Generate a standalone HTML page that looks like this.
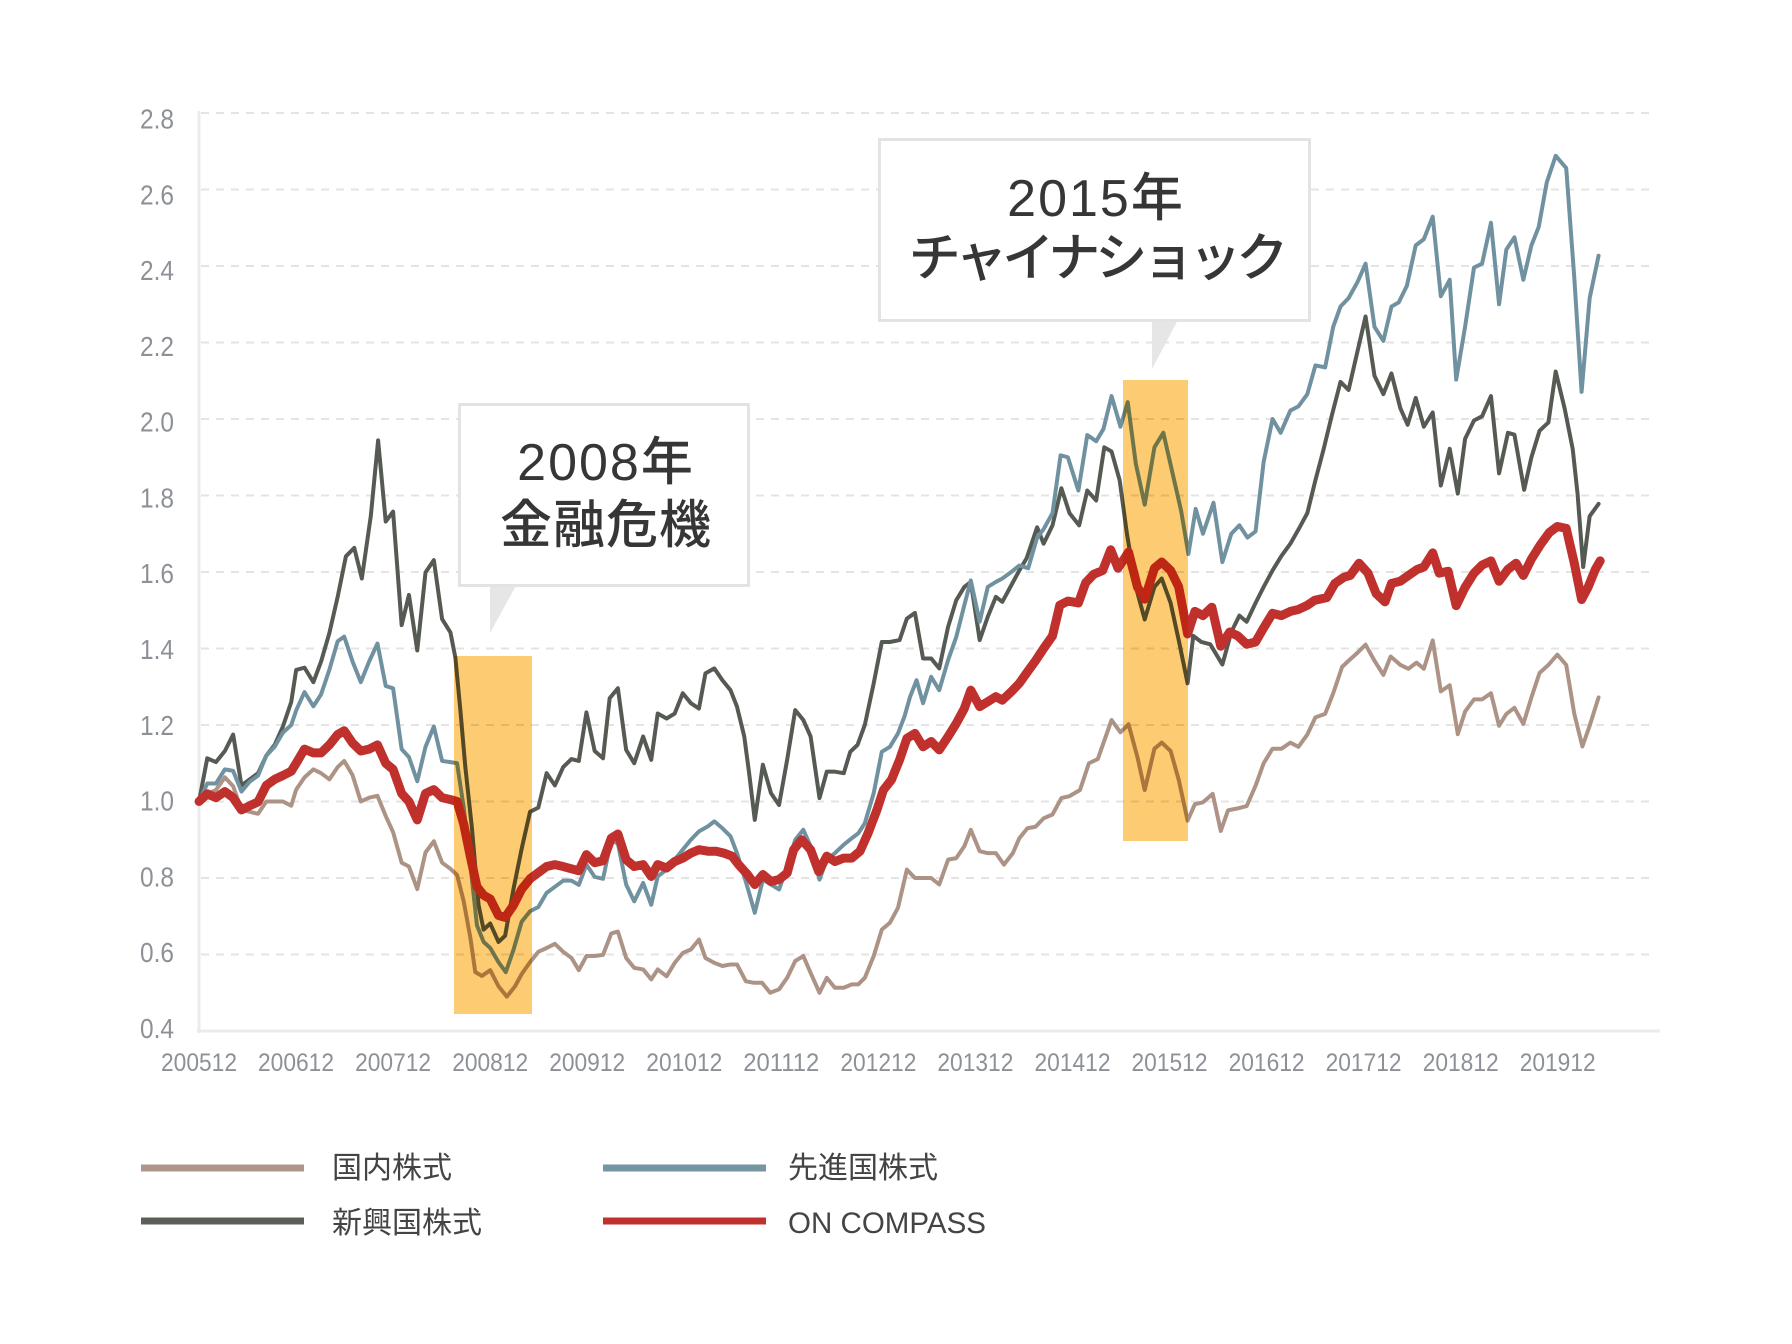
<!DOCTYPE html>
<html><head><meta charset="utf-8"><style>
html,body{margin:0;padding:0;background:#fff;width:1792px;height:1344px;overflow:hidden}
svg{display:block}
</style></head><body>
<svg width="1792" height="1344" viewBox="0 0 1792 1344" xmlns="http://www.w3.org/2000/svg">
<rect x="0" y="0" width="1792" height="1344" fill="#fff"/>
<!-- gridlines -->
<g stroke="#e4e4e4" stroke-width="2" stroke-dasharray="8 7">
<line x1="201" y1="113" x2="1653" y2="113"/>
<line x1="201" y1="189.5" x2="1653" y2="189.5"/>
<line x1="201" y1="266" x2="1653" y2="266"/>
<line x1="201" y1="342.5" x2="1653" y2="342.5"/>
<line x1="201" y1="419" x2="1653" y2="419"/>
<line x1="201" y1="495.5" x2="1653" y2="495.5"/>
<line x1="201" y1="572" x2="1653" y2="572"/>
<line x1="201" y1="648.5" x2="1653" y2="648.5"/>
<line x1="201" y1="725" x2="1653" y2="725"/>
<line x1="201" y1="801.5" x2="1653" y2="801.5"/>
<line x1="201" y1="878" x2="1653" y2="878"/>
<line x1="201" y1="954.5" x2="1653" y2="954.5"/>
</g>
<!-- axes -->
<line x1="199" y1="111" x2="199" y2="1033" stroke="#ebebeb" stroke-width="3"/>
<line x1="197" y1="1031" x2="1660" y2="1031" stroke="#ebebeb" stroke-width="3"/>
<!-- y labels -->
<g font-family="Liberation Sans, sans-serif" font-size="28" fill="#8d9197" text-anchor="end">
<text x="174" y="128.5" textLength="34" lengthAdjust="spacingAndGlyphs">2.8</text>
<text x="174" y="204.3" textLength="34" lengthAdjust="spacingAndGlyphs">2.6</text>
<text x="174" y="280.1" textLength="34" lengthAdjust="spacingAndGlyphs">2.4</text>
<text x="174" y="355.9" textLength="34" lengthAdjust="spacingAndGlyphs">2.2</text>
<text x="174" y="431.7" textLength="34" lengthAdjust="spacingAndGlyphs">2.0</text>
<text x="174" y="507.5" textLength="34" lengthAdjust="spacingAndGlyphs">1.8</text>
<text x="174" y="583.2" textLength="34" lengthAdjust="spacingAndGlyphs">1.6</text>
<text x="174" y="659" textLength="34" lengthAdjust="spacingAndGlyphs">1.4</text>
<text x="174" y="734.8" textLength="34" lengthAdjust="spacingAndGlyphs">1.2</text>
<text x="174" y="810.6" textLength="34" lengthAdjust="spacingAndGlyphs">1.0</text>
<text x="174" y="886.4" textLength="34" lengthAdjust="spacingAndGlyphs">0.8</text>
<text x="174" y="962.2" textLength="34" lengthAdjust="spacingAndGlyphs">0.6</text>
<text x="174" y="1038" textLength="34" lengthAdjust="spacingAndGlyphs">0.4</text>
</g>
<!-- x labels -->
<g font-family="Liberation Sans, sans-serif" font-size="25" fill="#8d9197" text-anchor="middle">
<text x="199" y="1071" textLength="76" lengthAdjust="spacingAndGlyphs">200512</text>
<text x="296" y="1071" textLength="76" lengthAdjust="spacingAndGlyphs">200612</text>
<text x="393.1" y="1071" textLength="76" lengthAdjust="spacingAndGlyphs">200712</text>
<text x="490.2" y="1071" textLength="76" lengthAdjust="spacingAndGlyphs">200812</text>
<text x="587.2" y="1071" textLength="76" lengthAdjust="spacingAndGlyphs">200912</text>
<text x="684.3" y="1071" textLength="76" lengthAdjust="spacingAndGlyphs">201012</text>
<text x="781.3" y="1071" textLength="76" lengthAdjust="spacingAndGlyphs">201112</text>
<text x="878.4" y="1071" textLength="76" lengthAdjust="spacingAndGlyphs">201212</text>
<text x="975.4" y="1071" textLength="76" lengthAdjust="spacingAndGlyphs">201312</text>
<text x="1072.5" y="1071" textLength="76" lengthAdjust="spacingAndGlyphs">201412</text>
<text x="1169.5" y="1071" textLength="76" lengthAdjust="spacingAndGlyphs">201512</text>
<text x="1266.6" y="1071" textLength="76" lengthAdjust="spacingAndGlyphs">201612</text>
<text x="1363.6" y="1071" textLength="76" lengthAdjust="spacingAndGlyphs">201712</text>
<text x="1460.7" y="1071" textLength="76" lengthAdjust="spacingAndGlyphs">201812</text>
<text x="1557.7" y="1071" textLength="76" lengthAdjust="spacingAndGlyphs">201912</text>
</g>
<!-- series -->
<g transform="matrix(8.09 0 0 -382.5 199 1184)" fill="none" stroke-linejoin="round" stroke-linecap="round">
<polyline vector-effect="non-scaling-stroke" stroke="#ad9386" stroke-width="4" points="0,1 1.02,1.02 2.09,1.03 3.2,1.063 4.22,1.04 5.25,0.978 6.27,0.973 7.3,0.968 8.32,1 9.35,1 10.37,1 11.4,0.989 12.01,1.031 13.04,1.063 14.14,1.084 15.09,1.074 16.11,1.058 17.14,1.09 17.95,1.106 18.98,1.069 20,1 21.03,1.01 22.06,1.015 23.08,0.962 23.99,0.92 25.05,0.84 25.95,0.83 26.98,0.771 28,0.867 29.03,0.896 30.05,0.84 31.08,0.824 31.9,0.808 32.72,0.739 33.54,0.644 34.15,0.554 34.97,0.544 36,0.559 37.02,0.517 38.05,0.49 39.07,0.517 39.89,0.549 40.92,0.58 41.94,0.607 42.97,0.617 43.99,0.628 45.02,0.607 46.04,0.591 46.95,0.559 47.89,0.596 48.91,0.596 49.94,0.599 50.96,0.655 51.78,0.66 52.8,0.591 53.8,0.565 54.9,0.561 55.9,0.535 56.7,0.561 57.8,0.543 58.8,0.578 59.8,0.604 60.8,0.613 61.8,0.639 62.6,0.591 63.7,0.578 64.7,0.57 65.7,0.574 66.5,0.574 67.6,0.53 68.6,0.526 69.6,0.526 70.6,0.5 71.7,0.509 72.7,0.539 73.7,0.583 74.7,0.596 75.6,0.552 76.7,0.5 77.6,0.539 78.6,0.513 79.7,0.513 80.7,0.522 81.5,0.522 82.3,0.539 83.4,0.596 84.4,0.665 85.4,0.683 86.4,0.722 87.5,0.822 88.5,0.8 89.5,0.8 90.5,0.8 91.5,0.783 92.6,0.848 93.6,0.852 94.6,0.883 95.4,0.926 96.5,0.87 97.5,0.865 98.5,0.865 99.5,0.835 100.6,0.865 101.4,0.904 102.4,0.93 103.4,0.934 104.4,0.956 105.5,0.966 106.6,1.009 107.6,1.014 108.9,1.03 110,1.1 111.1,1.111 111.9,1.159 112.8,1.213 113.9,1.181 114.9,1.202 116,1.116 116.9,1.03 118.1,1.138 119,1.154 120.1,1.132 121.1,1.057 122.2,0.95 123.1,0.993 124.1,0.998 125.3,1.02 126.3,0.923 127.2,0.977 128.4,0.982 129.5,0.988 130.6,1.041 131.6,1.1 132.7,1.138 133.8,1.138 134.9,1.154 135.9,1.143 137,1.175 138,1.22 139.2,1.229 140.2,1.283 141.3,1.352 142.1,1.368 143.2,1.389 144.2,1.41 145.3,1.368 146.4,1.331 147.3,1.379 148.5,1.357 149.5,1.347 150.5,1.363 151.4,1.347 152.5,1.421 153.5,1.288 154.6,1.304 155.6,1.176 156.5,1.235 157.6,1.267 158.6,1.267 159.7,1.283 160.7,1.198 161.6,1.229 162.6,1.245 163.7,1.203 164.7,1.272 165.7,1.336 166.8,1.357 167.9,1.384 169,1.357 170,1.229 171,1.144 171.9,1.198 173,1.272"/>
<polyline vector-effect="non-scaling-stroke" stroke="#555a53" stroke-width="4" points="0,1 1.02,1.113 2.09,1.103 3.2,1.132 4.22,1.175 5.25,1.042 6.27,1.058 7.3,1.074 8.32,1.12 9.35,1.148 10.37,1.196 11.4,1.26 12.01,1.344 13.04,1.35 14.14,1.312 15.09,1.366 16.11,1.44 17.14,1.535 18.16,1.641 19.19,1.663 20.13,1.583 21.24,1.747 22.14,1.944 23.08,1.732 23.99,1.758 25.05,1.461 25.95,1.54 26.98,1.395 28,1.599 29.03,1.631 30.05,1.477 31.08,1.442 31.69,1.376 32.31,1.238 32.92,1.09 33.74,0.93 34.56,0.729 35.18,0.665 36,0.681 37.02,0.633 37.84,0.649 38.87,0.771 39.89,0.877 40.92,0.973 41.94,0.984 42.97,1.074 43.99,1.042 45.02,1.09 46.04,1.111 46.95,1.106 47.89,1.233 48.91,1.132 49.94,1.113 50.76,1.27 51.78,1.296 52.8,1.135 53.8,1.1 54.9,1.17 55.9,1.109 56.7,1.23 57.8,1.217 58.8,1.23 59.8,1.283 60.8,1.257 61.8,1.243 62.6,1.335 63.7,1.348 64.7,1.317 65.7,1.291 66.5,1.248 67.4,1.17 68,1.074 68.7,0.952 69.7,1.096 70.7,1.022 71.7,0.991 72.7,1.109 73.7,1.239 74.7,1.213 75.6,1.17 76.7,1.009 77.6,1.078 78.6,1.078 79.7,1.074 80.5,1.13 81.4,1.148 82.3,1.2 83.4,1.309 84.4,1.417 85.4,1.417 86.6,1.422 87.5,1.478 88.5,1.493 89.5,1.374 90.5,1.374 91.5,1.348 92.6,1.457 93.6,1.526 94.6,1.561 95.4,1.574 96.5,1.422 97.5,1.483 98.5,1.535 99.3,1.522 100.4,1.565 101.4,1.604 102.3,1.636 103.6,1.717 104.4,1.674 105.5,1.722 106.6,1.819 107.6,1.754 108.8,1.722 109.8,1.813 110.9,1.787 111.9,1.926 112.8,1.915 113.8,1.84 114.7,1.7 115.8,1.561 116.9,1.476 118.1,1.561 119,1.583 120.1,1.519 121.1,1.422 122.2,1.309 122.9,1.433 123.9,1.417 125,1.411 126.5,1.358 127.6,1.443 128.6,1.486 129.5,1.47 130.6,1.519 131.6,1.561 132.7,1.604 133.8,1.642 134.9,1.674 135.9,1.711 137,1.754 138,1.84 139,1.92 140,2.007 141.1,2.097 142.1,2.076 143.2,2.177 144.2,2.268 145.3,2.113 146.4,2.065 147.4,2.119 148.5,2.028 149.4,1.985 150.4,2.055 151.4,1.98 152.5,2.017 153.5,1.826 154.6,1.922 155.6,1.805 156.5,1.948 157.6,1.996 158.6,2.007 159.7,2.06 160.7,1.858 161.8,1.964 162.6,1.959 163.8,1.815 164.7,1.9 165.7,1.969 166.8,1.991 167.7,2.124 168.8,2.028 169.8,1.922 170.4,1.805 171.1,1.613 171.9,1.746 173,1.778"/>
<polyline vector-effect="non-scaling-stroke" stroke="#7092a0" stroke-width="4" points="0,1 1.02,1.047 2.09,1.047 3.2,1.084 4.22,1.08 5.25,1.026 6.27,1.052 7.3,1.068 8.32,1.12 9.35,1.143 10.37,1.18 11.4,1.2 12.01,1.238 13.04,1.286 14.14,1.249 15.09,1.28 16.11,1.344 17.14,1.419 17.95,1.431 18.98,1.366 20,1.312 21.03,1.366 22.06,1.413 23.08,1.302 23.99,1.296 25.05,1.137 25.95,1.116 26.98,1.053 28,1.143 29.03,1.196 30.05,1.106 31.08,1.103 31.9,1.1 32.72,0.984 33.54,0.835 34.36,0.676 35.18,0.633 36,0.617 37.02,0.58 37.92,0.554 38.87,0.612 39.89,0.686 40.92,0.713 41.94,0.724 42.97,0.761 43.99,0.777 45.02,0.793 46.04,0.793 46.95,0.782 47.89,0.835 48.91,0.803 49.94,0.798 50.96,0.899 51.78,0.89 52.8,0.783 53.8,0.739 54.9,0.787 55.9,0.73 56.7,0.804 57.8,0.822 58.8,0.848 59.8,0.874 60.8,0.9 61.8,0.922 62.9,0.935 63.7,0.948 64.7,0.93 65.7,0.909 66.5,0.865 67.4,0.804 68,0.761 68.7,0.709 69.7,0.796 70.7,0.783 71.7,0.77 72.7,0.83 73.7,0.9 74.7,0.926 75.6,0.883 76.7,0.796 77.6,0.848 78.6,0.865 79.7,0.887 80.7,0.904 81.5,0.917 82.3,0.943 83.4,1.022 84.4,1.13 85.4,1.143 86.4,1.178 87.2,1.222 87.9,1.274 88.7,1.317 89.5,1.257 90.5,1.326 91.5,1.291 92.6,1.37 93.6,1.43 94.6,1.513 95.4,1.578 96.5,1.47 97.5,1.561 98.5,1.574 99.3,1.583 100.4,1.6 101.4,1.617 102.5,1.61 103.6,1.69 104.4,1.712 105.5,1.754 106.5,1.905 107.4,1.9 108.7,1.813 109.8,1.958 110.9,1.942 111.8,1.974 112.8,2.06 113.9,1.98 114.8,2.044 115.8,1.883 116.9,1.776 118.1,1.926 119.2,1.964 120.3,1.862 121.4,1.76 122.3,1.647 123.2,1.765 124.1,1.7 125.4,1.781 126.5,1.626 127.6,1.7 128.6,1.722 129.6,1.69 130.6,1.706 131.6,1.888 132.7,2 133.7,1.964 134.9,2.022 135.9,2.033 137,2.065 138,2.14 139.2,2.135 140.2,2.241 141.1,2.294 142.1,2.316 143.2,2.358 144.2,2.406 145.3,2.241 146.4,2.204 147.4,2.294 148.3,2.305 149.3,2.348 150.4,2.454 151.4,2.47 152.5,2.529 153.5,2.321 154.6,2.364 155.4,2.103 156.5,2.241 157.6,2.396 158.6,2.406 159.7,2.513 160.7,2.3 161.6,2.443 162.6,2.475 163.7,2.364 164.7,2.454 165.6,2.502 166.6,2.619 167.7,2.688 169,2.656 170,2.369 170.9,2.071 171.9,2.316 173,2.427"/>
<polyline vector-effect="non-scaling-stroke" stroke="#c0302c" stroke-width="9" points="0,1 1.02,1.02 2.09,1.01 3.2,1.026 4.22,1.01 5.25,0.978 6.27,0.989 7.3,0.999 8.32,1.042 9.35,1.058 10.37,1.068 11.4,1.079 12.01,1.1 13.04,1.137 14.14,1.127 15.09,1.127 16.11,1.148 17.14,1.175 17.95,1.185 18.98,1.153 20,1.132 21.03,1.137 22.06,1.148 23.08,1.1 23.99,1.084 25.05,1.021 25.95,1 26.98,0.952 28,1.021 29.03,1.031 30.05,1.01 31.08,1.005 31.9,1 32.72,0.941 33.54,0.856 34.36,0.777 35.18,0.755 36,0.745 37.02,0.702 37.84,0.697 38.87,0.729 39.89,0.771 40.92,0.798 41.94,0.814 42.97,0.83 43.99,0.835 45.02,0.83 46.04,0.824 46.95,0.819 47.89,0.861 48.91,0.84 49.94,0.845 50.96,0.904 51.78,0.915 52.8,0.848 53.8,0.83 54.9,0.835 55.9,0.804 56.7,0.835 57.8,0.826 58.8,0.843 59.8,0.852 60.8,0.865 61.8,0.874 62.9,0.87 63.9,0.87 64.9,0.865 65.9,0.857 66.7,0.835 67.8,0.809 68.7,0.783 69.7,0.809 70.7,0.791 71.7,0.796 72.7,0.813 73.5,0.874 74.5,0.9 75.6,0.874 76.6,0.817 77.6,0.857 78.6,0.843 79.7,0.852 80.7,0.852 81.7,0.87 82.7,0.917 83.8,0.978 84.6,1.03 85.6,1.057 86.6,1.109 87.5,1.165 88.5,1.178 89.5,1.143 90.5,1.157 91.5,1.135 92.6,1.17 93.6,1.204 94.6,1.243 95.4,1.291 96.5,1.248 97.5,1.261 98.5,1.274 99.3,1.265 100.4,1.287 101.4,1.309 102.3,1.336 103.4,1.368 104.4,1.4 105.5,1.433 106.4,1.513 107.4,1.524 108.7,1.519 109.6,1.572 110.6,1.594 111.7,1.604 112.7,1.658 113.6,1.61 114.9,1.652 116,1.561 116.9,1.529 118.1,1.61 119,1.626 120.1,1.604 121.1,1.561 122.2,1.438 123.1,1.497 124.1,1.486 125.2,1.508 126.3,1.406 127.4,1.443 128.4,1.433 129.5,1.411 130.6,1.417 131.6,1.454 132.7,1.492 133.8,1.486 134.9,1.497 135.9,1.502 137,1.513 137.9,1.526 139.4,1.533 140.4,1.57 141.5,1.586 142.3,1.591 143.4,1.623 144.5,1.597 145.5,1.544 146.6,1.522 147.4,1.57 148.5,1.576 149.5,1.591 150.6,1.607 151.4,1.613 152.5,1.65 153.3,1.597 154.4,1.602 155.4,1.512 156.5,1.56 157.6,1.597 158.6,1.618 159.7,1.629 160.7,1.576 161.8,1.607 162.8,1.623 163.7,1.591 164.7,1.634 165.8,1.671 166.9,1.703 167.9,1.719 169,1.714 170,1.623 170.9,1.528 171.7,1.56 172.6,1.607 173.2,1.629"/>
</g>
<!-- highlight rects -->
<rect x="454" y="656" width="78" height="358" fill="#fdcc72" style="mix-blend-mode:multiply"/>
<rect x="1123" y="380" width="65" height="461" fill="#fdcc72" style="mix-blend-mode:multiply"/>
<!-- callout 1 -->
<polygon points="490,584 517,584 490,633" fill="#e6e6e6"/>
<rect x="459.5" y="404.5" width="289" height="181" fill="#fff" stroke="#e3e3e3" stroke-width="3"/>
<g font-family="Liberation Sans, Noto Sans CJK JP, sans-serif" font-size="52" fill="#363636" text-anchor="middle" font-weight="500">
<text x="606" y="480" letter-spacing="2">2008年</text>
<text x="606" y="543" letter-spacing="1">金融危機</text>
</g>
<!-- callout 2 -->
<polygon points="1152,318 1179,318 1152,369" fill="#e6e6e6"/>
<rect x="879.5" y="139.5" width="430" height="181" fill="#fff" stroke="#e3e3e3" stroke-width="3"/>
<g font-family="Liberation Sans, Noto Sans CJK JP, sans-serif" font-size="52" fill="#363636" text-anchor="middle" font-weight="500">
<text x="1096" y="216" letter-spacing="2">2015年</text>
<text x="1096" y="276" letter-spacing="-5">チャイナショック</text>
</g>
<!-- legend -->
<g stroke-width="7">
<line x1="141" y1="1168" x2="304" y2="1168" stroke="#b09689"/>
<line x1="603" y1="1168" x2="766" y2="1168" stroke="#7595a3"/>
<line x1="141" y1="1221" x2="304" y2="1221" stroke="#5a5f58"/>
<line x1="603" y1="1221" x2="766" y2="1221" stroke="#c0302c"/>
</g>
<g font-family="Liberation Sans, Noto Sans CJK JP, sans-serif" font-size="30" fill="#444">
<text x="332" y="1178">国内株式</text>
<text x="788" y="1178">先進国株式</text>
<text x="332" y="1233">新興国株式</text>
<text x="788" y="1233" textLength="198" lengthAdjust="spacingAndGlyphs">ON COMPASS</text>
</g>
</svg>
</body></html>
